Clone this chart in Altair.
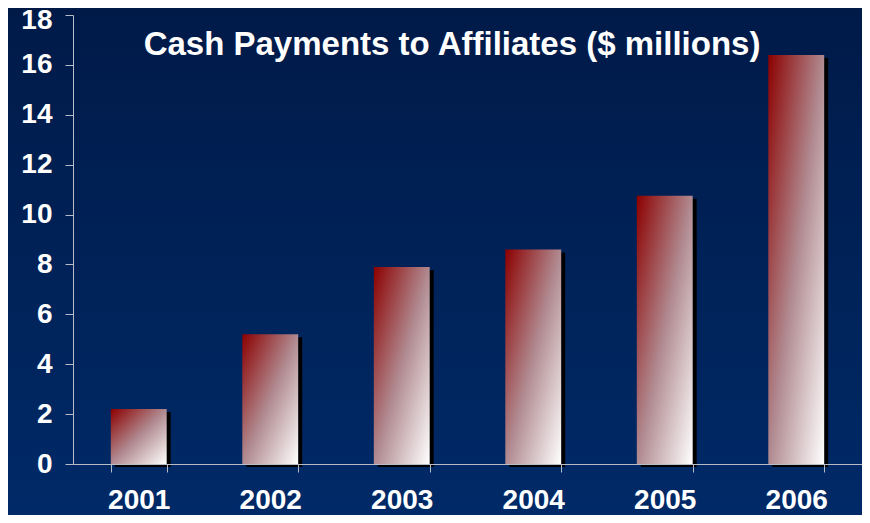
import altair as alt
import pandas as pd

years = ["2001", "2002", "2003", "2004", "2005", "2006"]
payments = [2.2, 5.2, 7.9, 8.6, 10.75, 16.4]
y_ticks = [0, 2, 4, 6, 8, 10, 12, 14, 16, 18]
title_text = "Cash Payments to Affiliates ($ millions)"

df = pd.DataFrame({"year": years, "value": payments})

W, H = 789, 449
PAD = {"left": 65, "top": 7, "right": 0, "bottom": 51}
FONT = "Liberation Sans"

x_scale = alt.Scale(paddingInner=0.575, paddingOuter=0.2875)
y_scale = alt.Scale(domain=[0, 18], nice=False)

bg_grad = alt.Gradient(
    gradient="linear",
    stops=[alt.GradientStop(color="#001a48", offset=0),
           alt.GradientStop(color="#002a68", offset=1)],
    x1=0, y1=0, x2=0, y2=1,
)
bar_grad = alt.Gradient(
    gradient="linear",
    stops=[alt.GradientStop(color="#8c0000", offset=0),
           alt.GradientStop(color="#b08a90", offset=0.5),
           alt.GradientStop(color="#ffffff", offset=1)],
    x1=0, y1=0, x2=1, y2=1,
)

bg = alt.Chart(alt.Data(values=[{"a": 1}])).mark_rect(fill=bg_grad).encode(
    x=alt.value(-PAD["left"]), x2=alt.value(W + 10),
    y=alt.value(-PAD["top"]), y2=alt.value(H + PAD["bottom"] + 10),
)

base = alt.Chart(df)

x_enc = alt.X("year:N", scale=x_scale, sort=years, axis=alt.Axis(
    title=None, labelAngle=0, tickBand="extent", domainColor="#b8bcc8",
    tickColor="#b8bcc8", tickSize=8, labelColor="white", labelFont=FONT,
    labelFontSize=28, labelFontWeight="bold", labelPadding=14, grid=False,
    zindex=1,
))
y_enc = alt.Y("value:Q", scale=y_scale, axis=alt.Axis(
    title=None, values=y_ticks, domainColor="#b8bcc8", tickColor="#b8bcc8",
    tickSize=8, labelColor="white", labelFont=FONT, labelFontSize=28,
    labelFontWeight="bold", labelPadding=13, grid=False, zindex=1,
    labelOffset={"condition": {"test": "datum.value == 18", "value": 5}, "value": 0},
))

shadow = base.mark_bar(color="black", xOffset=4, x2Offset=4, yOffset=3, y2Offset=0).encode(
    x=x_enc, y=y_enc,
)
bars = base.mark_bar(fill=bar_grad).encode(x=x_enc, y=y_enc)

title = alt.Chart(alt.Data(values=[{"t": title_text}])).mark_text(
    font=FONT, fontSize=33, fontWeight="bold", color="white",
    align="center", baseline="middle",
).encode(x=alt.value(379), y=alt.value(30), text="t:N")

chart = alt.layer(bg, shadow, bars, title).properties(
    width=W, height=H, padding=PAD,
    autosize=alt.AutoSizeParams(type="none"),
    background="#001a48",
).configure_view(stroke=None)

chart.save("out.html", embed_options={"renderer": "svg", "actions": False})
